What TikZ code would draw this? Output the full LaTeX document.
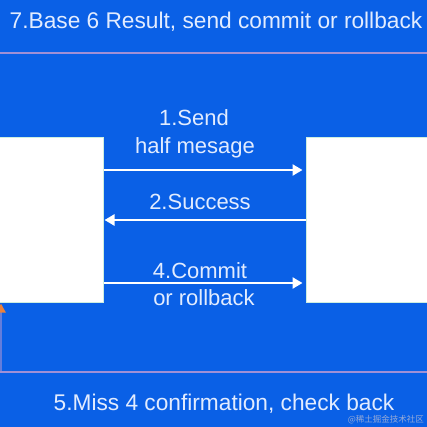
\documentclass[tikz,border=0pt]{standalone}
\usepackage{fontspec}
\setmainfont{Liberation Sans}
\newfontfamily\cjkfont{Noto Sans CJK SC}
\usetikzlibrary{arrows.meta}
\definecolor{bgblue}{RGB}{10,96,230}
\definecolor{txt}{RGB}{226,236,255}
\definecolor{sepline}{RGB}{160,144,214}
\definecolor{boxedge}{RGB}{205,238,224}
\definecolor{wm}{RGB}{150,170,215}
\definecolor{orangetip}{RGB}{235,130,60}
\tikzset{
  lbl/.style={text=txt, font=\fontsize{22}{25}\selectfont, inner sep=0pt, align=center},
  biglbl/.style={lbl, font=\fontsize{22.7}{26}\selectfont},
  sidebox/.style={draw=boxedge, line width=1pt, fill=white, minimum width=#1, minimum height=164pt, inner sep=0pt},
  msg/.style={draw=white, line width=2.5pt, -{Triangle[length=10pt,width=11pt]}},
  sep/.style={draw=sepline, line width=2.5pt}
}
\begin{document}
\begin{tikzpicture}[x=1pt,y=-1pt]
\fill[bgblue] (0,0) rectangle (427,427);
\useasboundingbox (0,0) rectangle (427,427);
% separator lines
\coordinate (t1) at (0,53); \coordinate (t2) at (427,53);
\coordinate (b1) at (0,372); \coordinate (b2) at (427,372);
\draw[sep] (t1) -- (t2);
\draw[sep] (b1) -- (b2);
% boxes
\node[sidebox=110pt] (L) at (48,220) {};
\node[sidebox=124pt] (R) at (368,220) {};
% messages
\draw[msg] (L.east |- 0,170) -- ([xshift=-3pt]R.west |- 0,170);
\draw[msg] (R.west |- 0,220) -- ([xshift=1pt]L.east |- 0,220);
\draw[msg] (L.east |- 0,283) -- ([xshift=-3pt]R.west |- 0,283);
% labels
\node[lbl] (l1) at (194,118) {1.Send};
\node[lbl] (l1b) at (195,148) {half mesage};
\node[lbl] (l2) at (200,202) {2.Success};
\node[lbl] (l4) at (200,271) {4.Commit};
\node[lbl] (l4b) at (204,298) {or rollback};
\node[biglbl] (top) at (216,22) {7.Base 6 Result, send commit or rollback};
\node[biglbl] (bot) at (224,404) {5.Miss 4 confirmation, check back};
% check-back arrow at left edge (mostly cut off)
\coordinate (cb) at (1,371);
\draw[draw=sepline!60!bgblue, line width=2pt, -{Triangle[length=9pt,width=9pt,color=orangetip]}] (cb) -- ([yshift=-1pt]L.south -| 1,0);
% watermark
\node[text=wm, font=\cjkfont\fontsize{8.5}{10}\selectfont, inner sep=0pt, anchor=east] (wmk) at (424,420) {@稀土掘金技术社区};
\end{tikzpicture}
\end{document}
